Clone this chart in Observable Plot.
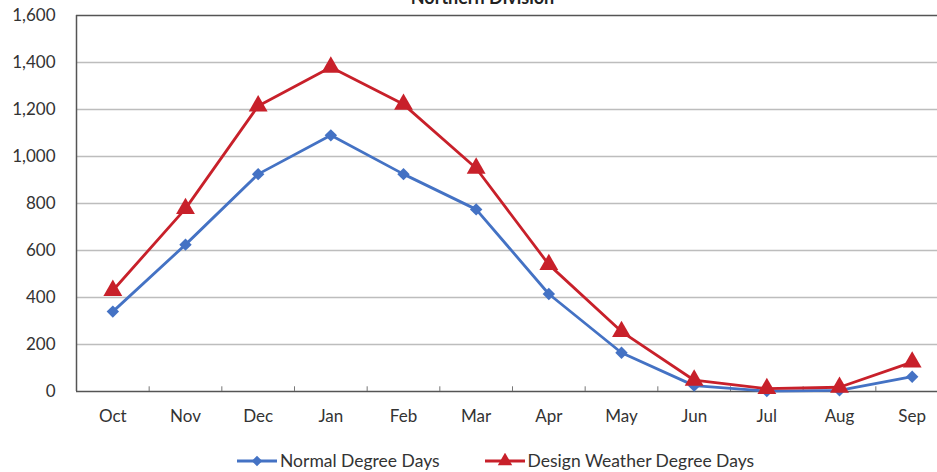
<!DOCTYPE html>
<html>
<head>
<meta charset="utf-8">
<script src="https://cdn.jsdelivr.net/npm/d3@7"></script>
<script src="https://cdn.jsdelivr.net/npm/@observablehq/plot@0.6"></script>
<style>
  html, body { margin: 0; padding: 0; background: #fff; overflow: hidden; }
  body { width: 937px; height: 472px; position: relative; font-family: Lato, "Open Sans", sans-serif; }
  #chart { position: absolute; left: 0; top: 0; width: 962px; }
  #chart svg { max-width: none !important; }
  #legend {
    position: absolute; left: 236px; top: 450px;
    display: flex; align-items: center; gap: 44px;
    font-size: 17.5px; color: #333;
  }
  #legend .item { display: flex; align-items: center; gap: 2px; }
</style>
</head>
<body>
<div id="chart"></div>
<div id="legend"></div>
<script>
// Monthly heating degree days, Northern Division
const months = ["Oct", "Nov", "Dec", "Jan", "Feb", "Mar", "Apr", "May", "Jun", "Jul", "Aug", "Sep"];
const normalDegreeDays = [340, 625, 925, 1090, 925, 775, 415, 165, 25, 2, 5, 63];
const designDegreeDays = [430, 778, 1215, 1380, 1222, 950, 540, 255, 48, 12, 18, 125];
const yTicks = [0, 200, 400, 600, 800, 1000, 1200, 1400, 1600];

const seriesNames = ["Normal Degree Days", "Design Weather Degree Days"];
const seriesColors = ["#4472c4", "#c8202a"];
const seriesSymbols = ["diamond2", "triangle"];

const rows = [];
months.forEach((m, i) => {
  rows.push({i, month: m, value: normalDegreeDays[i], series: seriesNames[0]});
  rows.push({i, month: m, value: designDegreeDays[i], series: seriesNames[1]});
});
const normalRows = rows.filter(d => d.series === seriesNames[0]);
const designRows = rows.filter(d => d.series === seriesNames[1]);

// category boundaries for the small tick marks along the x axis
const boundaries = d3.range(months.length + 1).map(i => i - 0.5);

const chart = Plot.plot({
  width: 962,
  height: 440,
  marginLeft: 76,
  marginRight: 14,
  marginTop: 15,
  marginBottom: 49,
  style: {fontFamily: "Lato, 'Open Sans', sans-serif", fontSize: "17px", color: "#333", background: "#fff", overflow: "visible", maxWidth: "none"},
  x: {domain: [-0.5, months.length - 0.5]},
  y: {domain: [0, 1600]},
  marks: [
    Plot.ruleY(yTicks.filter(v => v > 0 && v < 1600), {stroke: "#bdbdbd", strokeWidth: 1.4}),
    Plot.ruleY([1600], {stroke: "#555", strokeWidth: 1.5}),
    Plot.ruleY([0], {stroke: "#555", strokeWidth: 1.5}),
    Plot.ruleX([-0.5], {stroke: "#555", strokeWidth: 1.5}),
    Plot.ruleX(boundaries.slice(1), {y1: 0, y2: 20, stroke: "#777", strokeWidth: 1}),
    Plot.axisY({ticks: yTicks, tickFormat: d3.format(","), tickSize: 0, tickPadding: 21, label: null, fontSize: 17}),
    Plot.axisX({ticks: d3.range(months.length), tickFormat: i => months[i], tickSize: 0, tickPadding: 18, label: null, fontSize: 17}),
    Plot.line(normalRows, {x: "i", y: "value", stroke: seriesColors[0], strokeWidth: 2.8}),
    Plot.line(designRows, {x: "i", y: "value", stroke: seriesColors[1], strokeWidth: 2.8}),
    Plot.dot(normalRows, {x: "i", y: "value", symbol: seriesSymbols[0], r: 5.6, fill: seriesColors[0], stroke: "none"}),
    Plot.dot(designRows, {x: "i", y: "value", symbol: seriesSymbols[1], r: 7, fill: seriesColors[1], stroke: "none"}),
    Plot.text(["Northern Division"], {frameAnchor: "top", dx: -30, dy: -12, lineAnchor: "bottom", fontWeight: "bold", fontSize: 18, fill: "#222"})
  ]
});
document.getElementById("chart").append(chart);

// legend below the chart
const legend = d3.select("#legend");
seriesNames.forEach((name, k) => {
  const item = legend.append("div").attr("class", "item");
  const sw = item.append("svg").attr("width", 42).attr("height", 16);
  sw.append("line").attr("x1", 1).attr("x2", 41).attr("y1", 8).attr("y2", 8)
    .attr("stroke", seriesColors[k]).attr("stroke-width", 2.8);
  const sym = k === 0 ? d3.symbol(d3.symbolDiamond2, 70) : d3.symbol(d3.symbolTriangle, 90);
  sw.append("path").attr("d", sym()).attr("transform", "translate(21,8)").attr("fill", seriesColors[k]);
  item.append("span").text(name);
});
</script>
</body>
</html>
